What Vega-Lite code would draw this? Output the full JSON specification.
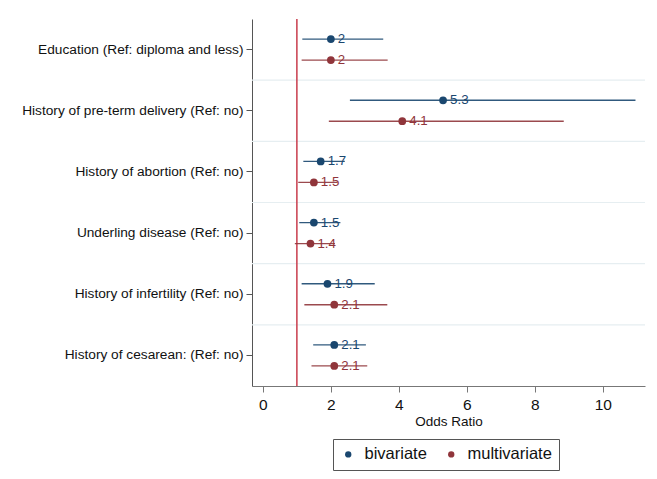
{
  "$schema": "https://vega.github.io/schema/vega-lite/v6.json",
  "width": 393,
  "height": 367,
  "autosize": {"type": "none"},
  "padding": {"left": 252, "top": 19, "right": 12, "bottom": 93},
  "background": "white",
  "config": {
    "view": {"stroke": null},
    "font": "Liberation Sans"
  },
  "data": {
    "values": [
      {"variable": "Education (Ref: diploma and less)", "model": "bivariate", "or": 2, "lower": 1.16, "upper": 3.54},
      {"variable": "Education (Ref: diploma and less)", "model": "multivariate", "or": 2, "lower": 1.14, "upper": 3.67},
      {"variable": "History of pre-term delivery (Ref: no)", "model": "bivariate", "or": 5.3, "lower": 2.56, "upper": 10.96},
      {"variable": "History of pre-term delivery (Ref: no)", "model": "multivariate", "or": 4.1, "lower": 1.94, "upper": 8.85},
      {"variable": "History of abortion (Ref: no)", "model": "bivariate", "or": 1.7, "lower": 1.19, "upper": 2.41},
      {"variable": "History of abortion (Ref: no)", "model": "multivariate", "or": 1.5, "lower": 1.04, "upper": 2.2},
      {"variable": "Underling disease (Ref: no)", "model": "bivariate", "or": 1.5, "lower": 1.07, "upper": 2.28},
      {"variable": "Underling disease (Ref: no)", "model": "multivariate", "or": 1.4, "lower": 0.94, "upper": 2.12},
      {"variable": "History of infertility (Ref: no)", "model": "bivariate", "or": 1.9, "lower": 1.14, "upper": 3.29},
      {"variable": "History of infertility (Ref: no)", "model": "multivariate", "or": 2.1, "lower": 1.22, "upper": 3.66},
      {"variable": "History of cesarean: (Ref: no)", "model": "bivariate", "or": 2.1, "lower": 1.48, "upper": 3.03},
      {"variable": "History of cesarean: (Ref: no)", "model": "multivariate", "or": 2.1, "lower": 1.43, "upper": 3.07}
    ]
  },
  "layer": [
    {
      "transform": [
        {"filter": "datum.model === 'bivariate' && datum.variable !== 'Education (Ref: diploma and less)'"}
      ],
      "mark": {"type": "rule", "color": "#e6eef1", "strokeWidth": 1.2},
      "encoding": {
        "y": {"field": "variable", "type": "nominal", "bandPosition": 0,
              "sort": ["Education (Ref: diploma and less)", "History of pre-term delivery (Ref: no)", "History of abortion (Ref: no)", "Underling disease (Ref: no)", "History of infertility (Ref: no)", "History of cesarean: (Ref: no)"]}
      }
    },
    {
      "transform": [{"filter": "datum.model === 'bivariate' && datum.variable === 'Education (Ref: diploma and less)'"}],
      "mark": {"type": "rule", "color": "#c83c4c", "strokeWidth": 1.5},
      "encoding": {"x": {"datum": 1}}
    },
    {
      "mark": {"type": "point", "filled": true, "size": 60, "opacity": 1},
      "encoding": {
        "y": {"field": "variable", "type": "nominal"},
        "yOffset": {"field": "model", "type": "nominal", "sort": ["bivariate", "multivariate"], "scale": {"paddingInner": 0, "paddingOuter": 0.457}},
        "x": {"field": "or", "type": "quantitative"},
        "color": {"field": "model", "type": "nominal"}
      }
    },
    {
      "mark": {"type": "rule", "strokeWidth": 1.3, "opacity": 0.9},
      "encoding": {
        "y": {"field": "variable", "type": "nominal"},
        "yOffset": {"field": "model", "type": "nominal", "sort": ["bivariate", "multivariate"]},
        "x": {"field": "lower", "type": "quantitative"},
        "x2": {"field": "upper"},
        "color": {"field": "model", "type": "nominal"}
      }
    },
    {
      "mark": {"type": "text", "align": "left", "baseline": "middle", "dx": 7, "fontSize": 13.3},
      "encoding": {
        "y": {"field": "variable", "type": "nominal"},
        "yOffset": {"field": "model", "type": "nominal", "sort": ["bivariate", "multivariate"]},
        "x": {"field": "or", "type": "quantitative"},
        "text": {"field": "or", "type": "quantitative", "format": "~g"},
        "color": {"field": "model", "type": "nominal"}
      }
    }
  ],
  "encoding": {
    "x": {"type": "quantitative",
          "scale": {"domain": [-0.32, 11.24], "nice": false, "zero": false},
          "axis": {"values": [0, 2, 4, 6, 8, 10], "grid": false, "title": "Odds Ratio",
                   "titleFontSize": 13.5, "titleFontWeight": "normal", "titleColor": "#111", "titlePadding": 2,
                   "labelFontSize": 15.5, "labelColor": "#111", "labelPadding": 5,
                   "tickSize": 6, "tickColor": "#777", "domainColor": "#777"}},
    "y": {"type": "nominal",
          "sort": ["Education (Ref: diploma and less)", "History of pre-term delivery (Ref: no)", "History of abortion (Ref: no)", "Underling disease (Ref: no)", "History of infertility (Ref: no)", "History of cesarean: (Ref: no)"],
          "scale": {"paddingInner": 0, "paddingOuter": 0},
          "axis": {"title": null, "grid": false, "labelFontSize": 13.7, "labelColor": "#111", "labelPadding": 3,
                   "tickSize": 6, "tickColor": "#555", "domainColor": "#555", "labelLimit": 300}},
    "color": {"scale": {"domain": ["bivariate", "multivariate"], "range": ["#1a476f", "#90353b"]},
              "legend": {"title": null, "orient": "none", "legendX": 81, "legendY": 420, "direction": "horizontal",
                         "symbolType": "circle", "symbolSize": 40, "symbolStrokeWidth": 0, "symbolOpacity": 1,
                         "labelFontSize": 16.5, "labelColor": "#111", "labelOffset": 8,
                         "columnPadding": 16, "strokeColor": "#555", "padding": 7}}
  }
}
